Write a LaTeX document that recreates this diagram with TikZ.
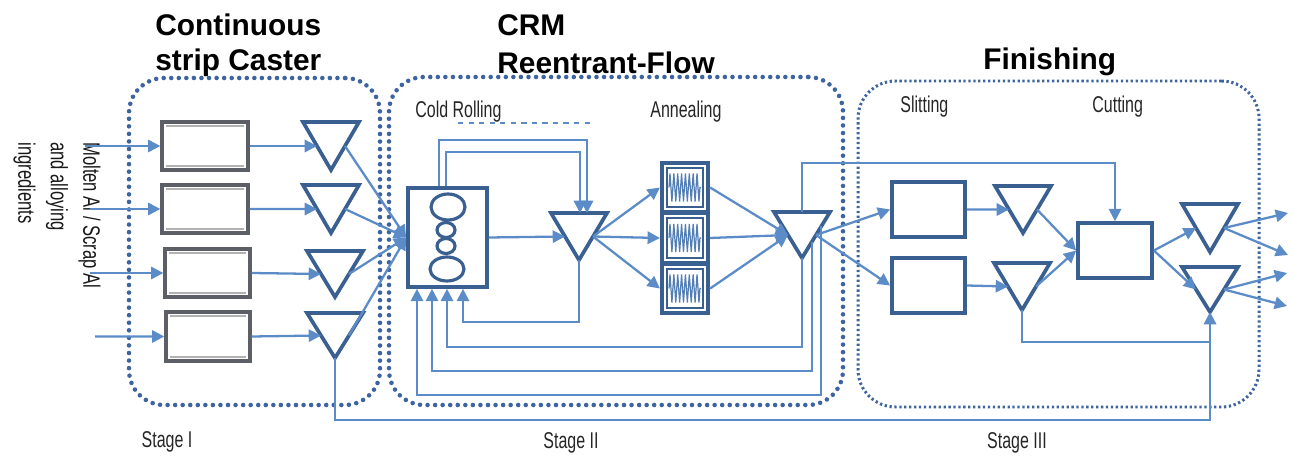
\documentclass[tikz,border=0pt]{standalone}
\usepackage{fontspec}
\setmainfont{Liberation Sans}
\newfontfamily\nar[FakeStretch=0.70]{Liberation Sans}
\usetikzlibrary{arrows.meta,calc,fit,decorations.pathmorphing}
\definecolor{lb}{RGB}{92,140,200}
\definecolor{db}{RGB}{58,96,146}
\definecolor{dotc}{RGB}{62,100,160}
\definecolor{gbox}{RGB}{92,96,102}
\tikzset{
  ln/.style={draw=lb, line width=1.3pt},
  arr/.style={ln, -{Triangle[length=7pt,width=7pt]}},
  tri/.style={draw=db, line width=2.1pt, line join=miter},
  caster/.style={draw=gbox, line width=1.9pt, inner sep=0pt},
  dbox/.style={draw=db, line width=2.1pt, inner sep=0pt},
  stdot/.style={draw=dotc, line width=2.6pt, dash pattern=on 0pt off 4.3pt, line cap=round, inner sep=0pt, rounded corners=0.7cm},
  stdot3/.style={draw=dotc, line width=1.7pt, dash pattern=on 1.3pt off 1.5pt, inner sep=0pt, rounded corners=0.75cm},
  ttl/.style={font=\bfseries\fontsize{17}{20}\selectfont, inner sep=0pt, anchor=west},
  sub/.style={font=\nar\fontsize{13}{15}\selectfont, text=black!85, inner sep=0pt},
  coil/.style={draw=lb!90!black, line width=0.7pt, decorate, decoration={zigzag, segment length=2.2pt, amplitude=0.28cm}}
}
\newcommand\dtri[4]{%
  \coordinate (#1-tl) at ({#2-28},#3);
  \coordinate (#1-tr) at ({#2+28},#3);
  \coordinate (#1-top) at (#2,#3);
  \coordinate (#1-b) at (#2,#4);
  \coordinate (#1-lm) at ($(#1-tl)!0.5!(#1-b)$);
  \coordinate (#1-rm) at ($(#1-tr)!0.5!(#1-b)$);
  \draw[tri] (#1-tl) -- (#1-tr) -- (#1-b) -- cycle;}
\begin{document}
\begin{tikzpicture}[x=0.02cm,y=-0.02cm]
\useasboundingbox (0,0) rectangle (1293,459);

% stage boundaries
\node[stdot, fit={(129,78) (380,405)}] (st1) {};
\node[stdot, fit={(389,77) (843,405)}] (st2) {};
\node[stdot3, fit={(858,81) (1259,407)}] (st3) {};

% titles
\node[ttl] (t1) at (155,25) {Continuous};
\node[ttl] (t2) at (155,63) {strip Caster};
\node[ttl] (t3) at (497,25) {CRM};
\node[ttl] (t4) at (497,63) {Reentrant-Flow};
\node[ttl] (t5) at (983,62) {Finishing};

% sub labels
\node[sub, anchor=west] (l1) at (415,112) {Cold Rolling};
\node[sub, anchor=west] (l2) at (650,112) {Annealing};
\node[sub, anchor=west] (l3) at (900,107) {Slitting};
\node[sub, anchor=west] (l4) at (1092,107) {Cutting};
\node[sub] (g1) at (167,442) {Stage I};
\node[sub] (g2) at (571,443) {Stage II};
\node[sub] (g3) at (1017,443) {Stage III};

% input text
\node[rotate=-90, anchor=north west, align=left, inner sep=0pt, text=black!90,
  font=\nar\fontsize{13.5}{18.5}\selectfont] (src) at (101,142)
  {Molten Al / Scrap Al\\and alloying\\ingredients};

% dashed line under Cold Rolling
\coordinate (dl1) at (458,123);
\coordinate (dl2) at (590,123);
\draw[draw=lb, line width=1pt, dashed] (dl1) -- (dl2);

% casters
\foreach \n/\xa/\ya/\xb/\yb in {c1/162/122/248/170, c2/162/185/248/233, c3/165/249/250/297, c4/166/312/250/361}{
  \node[caster, fit={(\xa,\ya) (\xb,\yb)}] (\n) {};
  \draw[draw=gray!60, line width=0.7pt] (\xa+4,\ya+4) -- (\xb-4,\ya+4);
  \draw[draw=gray!60, line width=0.7pt] (\xa+4,\yb-4) -- (\xb-4,\yb-4);
}

% stage I triangles
\dtri{A1}{331}{122}{170}
\dtri{A2}{331}{185}{233}
\dtri{A3}{335}{251}{297}
\dtri{A4}{335}{313}{358}

% inputs
\coordinate (in1) at (85,146);
\coordinate (in2) at (90,209);
\coordinate (in3) at (90,273);
\coordinate (in4) at (95,336.5);
\draw[arr] (in1) -- (c1.west);
\draw[arr] (in2) -- (c2.west);
\draw[arr] (in3) -- (c3.west);
\draw[arr] (in4) -- (c4.west);
\draw[arr] (c1.east) -- (A1-lm);
\draw[arr] (c2.east) -- (A2-lm);
\draw[arr] (c3.east) -- (A3-lm);
\draw[arr] (c4.east) -- (A4-lm);

% cold rolling mill
\node[dbox, fit={(408,188) (487,287)}] (crm) {};
\draw[draw=db, line width=1.8pt] (448,207) ellipse [x radius=17, y radius=13];
\draw[draw=db, line width=1.8pt] (446,230) ellipse [x radius=9, y radius=7.5];
\draw[draw=db, line width=1.8pt] (446,246) ellipse [x radius=9, y radius=7.5];
\draw[draw=db, line width=1.8pt] (447,269) ellipse [x radius=17, y radius=12];

\draw[arr] (A1-rm) -- (crm.west);
\draw[arr] (A2-rm) -- (crm.west);
\draw[arr] (A3-rm) -- (crm.west);
\draw[arr] (A4-rm) -- (crm.west);

% cold rolling triangle
\dtri{B}{579}{213}{260}
\draw[arr] (crm.east) -- (B-lm);
\draw[arr] ([xshift=-0.17cm]crm.north) -- ++(0,-46) -| ([xshift=0.16cm]B-top);
\draw[arr] ([xshift=-0.03cm]crm.north) -- ++(0,-34) -| ([xshift=0.02cm]B-top);

% annealing furnaces
\foreach \n/\ya/\yb in {F1/163/212, F2/213/263, F3/264/313}{
  \node[dbox, line width=2.4pt, fit={(662,\ya) (708,\yb)}] (\n) {};
  \draw[draw=db, line width=0.8pt] (667,\ya+5) rectangle (703,\yb-5);
  \draw[coil] (669,{(\ya+\yb)/2}) -- (701,{(\ya+\yb)/2});
}
\draw[arr] (B-rm) -- (F1.west);
\draw[arr] (B-rm) -- (F2.west);
\draw[arr] (B-rm) -- (F3.west);

% annealing triangle
\dtri{C}{802}{212}{258}
\draw[arr] (F1.east) -- (C-lm);
\draw[arr] (F2.east) -- (C-lm);
\draw[arr] (F3.east) -- (C-lm);

% bottom feedback loops
\coordinate (y1) at (0,322);
\coordinate (y2) at (0,347);
\coordinate (y3) at (0,371);
\coordinate (y4) at (0,395);
\coordinate (C3) at ($(C-tr)!0.655!(C-b)$);
\coordinate (C4) at ($(C-tr)!0.31!(C-b)$);
\draw[arr] (B-b) -- (B-b |- y1) -| ([xshift=0.31cm]crm.south);
\draw[arr] (C-b) -- (C-b |- y2) -| ([xshift=-0.01cm]crm.south);
\draw[arr] (C3) -- (C3 |- y3) -| ([xshift=-0.31cm]crm.south);
\draw[arr] (C4) -- (C4 |- y4) -| ([xshift=-0.61cm]crm.south);

% finishing
\node[dbox, fit={(892,182) (965,237)}] (S1) {};
\node[dbox, fit={(892,258) (965,313)}] (S2) {};
\node[dbox, fit={(1078,223) (1152,278)}] (cut) {};
\dtri{D1}{1023}{186}{233}
\dtri{D2}{1022}{263}{310}
\dtri{E1}{1210}{204}{252}
\dtri{E2}{1210}{267}{312}

\draw[arr] (C-top) -- ++(0,-49) -| (cut.north);
\draw[arr] (C-rm) -- (S1.west);
\draw[arr] (C-rm) -- (S2.west);
\draw[arr] (S1.east) -- (D1-lm);
\draw[arr] (S2.east) -- (D2-lm);
\draw[arr] (D1-rm) -- (cut.west);
\draw[arr] (D2-rm) -- (cut.west);
\draw[arr] (cut.east) -- (E1-lm);
\draw[arr] (cut.east) -- (E2-lm);

\coordinate (o1) at (1288,213);
\coordinate (o2) at (1288,255);
\coordinate (o3) at (1287,273);
\coordinate (o4) at (1287,306);
\draw[arr] (E1-rm) -- (o1);
\draw[arr] (E1-rm) -- (o2);
\draw[arr] (E2-rm) -- (o3);
\draw[arr] (E2-rm) -- (o4);

\coordinate (y5) at (0,420);
\coordinate (y6) at (0,342);
\draw[ln] (D2-b) -- (D2-b |- y6) -- (E2-b |- y6);
\draw[arr] (A4-b) -- (A4-b |- y5) -| (E2-b);
\end{tikzpicture}
\end{document}
